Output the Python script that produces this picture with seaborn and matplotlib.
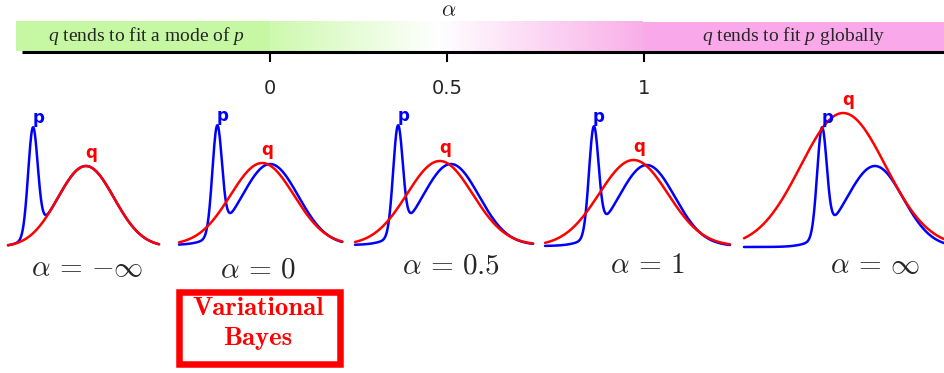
import numpy as np
import pandas as pd
import matplotlib
matplotlib.use("Agg")
import matplotlib.pyplot as plt
import seaborn as sns
from matplotlib.patches import Rectangle
from matplotlib.colors import LinearSegmentedColormap

# ---------------- data ----------------
alpha_labels = [r"$\alpha\,=\,{-\infty}$", r"$\alpha\,=\,0$", r"$\alpha\,=\,0.5$",
                r"$\alpha\,=\,1$", r"$\alpha\,=\,\infty$"]
axis_tick_labels = ["0", "0.5", "1"]
left_caption = r"$q$ tends to fit a mode of $p$"
right_caption = r"$q$ tends to fit $p$ globally"
box_lines = ["Variational", "Bayes"]

# target distribution p: narrow spike + broad bump (mean, sd, peak height)
p_means = [0.0, 1.0]
p_sds = [0.09, 0.53]
p_heights = [1.06, 0.81]

# fitted Gaussian q for each alpha panel
q_means = [1.00, 0.85, 0.79, 0.75, 0.40]
q_sds = [0.53, 0.60, 0.62, 0.65, 0.80]
q_heights = [0.81, 0.82, 0.84, 0.86, 1.34]

# x-range shown in each panel
x_lows = [-0.47, -0.72, -0.81, -0.92, -1.47]
x_highs = [2.38, 2.36, 2.55, 2.57, 2.60]

# ---------------- layout ----------------
W, H = 945, 373
PXU_X, PXU_Y = 53.0, 100.0
panel_left_px = [8, 179, 355, 545, 744]
panel_base_px = [247, 245, 245, 246, 247]
label_cx = [87, 258, 451, 647, 875]
label_base = [276, 277, 273, 273, 273]
tick_px = [270, 447, 644]

sns.set_style("white")
plt.rcParams["mathtext.fontset"] = "custom"
plt.rcParams["mathtext.rm"] = "Liberation Serif"
plt.rcParams["mathtext.it"] = "Liberation Serif:italic"
plt.rcParams["mathtext.bf"] = "Liberation Serif:bold"

fig = plt.figure(figsize=(W / 100, H / 100), dpi=100, facecolor="white")
bg = fig.add_axes([0, 0, 1, 1])
bg.set_facecolor("none")

# colour band
bg.add_patch(Rectangle((16, 21), 254, 30, facecolor="#c6f7a2", edgecolor="none"))
bg.add_patch(Rectangle((643, 22), 302, 29, facecolor="#f9a9ea", edgecolor="none"))
cmap = LinearSegmentedColormap.from_list(
    "band", [(0.0, "#cdf9ae"), (0.45, "#ffffff"), (1.0, "#f9afe9")])
grad = np.linspace(0, 1, 256)[None, :]
bg.imshow(grad, extent=[270, 643, 51, 21], cmap=cmap, aspect="auto",
          interpolation="bilinear")

bg.text(146.5, 41, left_caption, family="Liberation Serif", fontsize=14,
        ha="center", va="baseline")
bg.text(793.5, 41, right_caption, family="Liberation Serif", fontsize=14,
        ha="center", va="baseline")

# alpha axis
bg.plot([22, 945], [51.5, 51.5], color="black", lw=2.2, solid_capstyle="butt")
for xp, lab in zip(tick_px, axis_tick_labels):
    bg.plot([xp, xp], [52, 62], color="black", lw=1.5, solid_capstyle="butt")
    bg.text(xp, 88, lab, family="DejaVu Sans", fontsize=14,
            ha="center", va="center")
bg.text(449, 16, r"$\alpha$", math_fontfamily="cm", fontsize=16,
        ha="center", va="baseline")

# alpha labels under panels
for cx, by, lab in zip(label_cx, label_base, alpha_labels):
    bg.text(cx, by, lab, math_fontfamily="cm", fontsize=21,
            ha="center", va="baseline")

# Variational Bayes box
bg.add_patch(Rectangle((178.5, 291.5), 161.5, 72, fill=False,
                       edgecolor="red", lw=4.7, joinstyle="miter"))
bg.text(258, 315, box_lines[0], family="cmb10", fontsize=19.3,
        color="red", ha="center", va="baseline")
bg.text(258, 345, box_lines[1], family="cmb10", fontsize=19.3,
        color="red", ha="center", va="baseline")

bg.set_xlim(0, W)
bg.set_ylim(H, 0)
bg.axis("off")


def gauss(x, m, s, h):
    return h * np.exp(-((x - m) ** 2) / (2 * s ** 2))


y_lo, y_hi = -0.06, 1.44
for i in range(5):
    xl, xh = x_lows[i], x_highs[i]
    wpx = (xh - xl) * PXU_X
    hpx = (y_hi - y_lo) * PXU_Y
    bottom_px = panel_base_px[i] - y_lo * PXU_Y
    ax = fig.add_axes([panel_left_px[i] / W, (H - bottom_px) / H,
                       wpx / W, hpx / H])
    ax.set_facecolor("none")
    x = np.linspace(xl, xh, 800)
    p = sum(gauss(x, m, s, h) for m, s, h in zip(p_means, p_sds, p_heights))
    q = gauss(x, q_means[i], q_sds[i], q_heights[i])
    df = pd.DataFrame({
        "x": np.concatenate([x, x]),
        "density": np.concatenate([p, q]),
        "curve": ["p"] * len(x) + ["q"] * len(x),
    })
    sns.lineplot(data=df, x="x", y="density", hue="curve",
                 hue_order=["p", "q"], palette={"p": "blue", "q": "red"},
                 estimator=None, sort=False, legend=False, lw=1.8, ax=ax)
    for ln in ax.lines:
        ln.set_clip_on(False)
    p_peak = p.max()
    ax.text(p_means[0] + 0.1, p_peak + 0.005, "p", color="blue",
            fontsize=12, fontweight="bold", family="DejaVu Sans",
            ha="center", va="bottom")
    ax.text(q_means[i] + 0.1, q_heights[i] + 0.04, "q", color="red",
            fontsize=12, fontweight="bold", family="DejaVu Sans",
            ha="center", va="bottom")
    ax.set_xlim(xl, xh)
    ax.set_ylim(y_lo, y_hi)
    ax.axis("off")

fig.savefig("out.png", dpi=100, facecolor="white")
